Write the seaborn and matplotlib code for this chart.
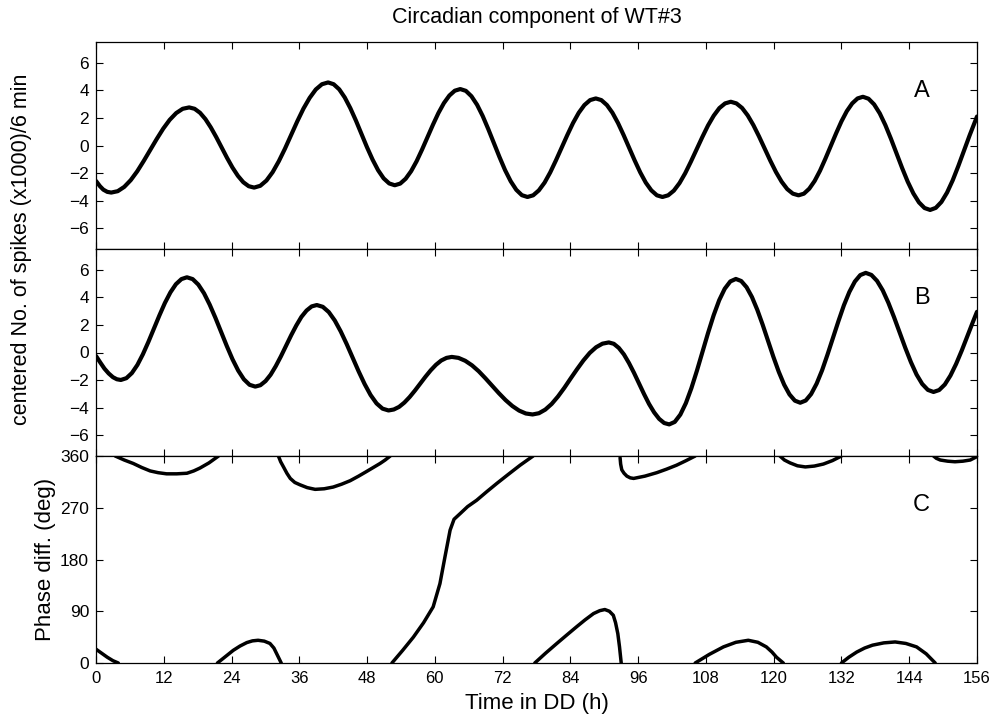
import numpy as np
import pandas as pd
import matplotlib
matplotlib.use("Agg")
import matplotlib.pyplot as plt
import seaborn as sns

# ---------------- data ----------------
hours_a = [0, 0.7, 1.3, 2.0,
           2.7, 3.85, 5.0, 6.15, 7.3, 8.45, 9.6, 10.75, 11.9, 13.05, 14.2, 15.35,
           16.5, 17.46, 18.42, 19.38, 20.33, 21.29, 22.25, 23.21, 24.17, 25.13, 26.08, 27.04,
           28.0, 29.09, 30.18, 31.28, 32.37, 33.46, 34.55, 35.64, 36.73, 37.83, 38.92, 40.01,
           41.1, 42.08, 43.07, 44.05, 45.03, 46.02, 47.0, 47.98, 48.97, 49.95, 50.93, 51.92,
           52.9, 53.87, 54.83, 55.8, 56.77, 57.73, 58.7, 59.67, 60.63, 61.6, 62.57, 63.53,
           64.5, 65.49, 66.48, 67.48, 68.47, 69.46, 70.45, 71.44, 72.43, 73.43, 74.42, 75.41,
           76.4, 77.41, 78.42, 79.43, 80.43, 81.44, 82.45, 83.46, 84.47, 85.48, 86.48, 87.49,
           88.5, 89.48, 90.47, 91.45, 92.43, 93.42, 94.4, 95.38, 96.37, 97.35, 98.33, 99.32,
           100.3, 101.31, 102.32, 103.33, 104.33, 105.34, 106.35, 107.36, 108.37, 109.38, 110.38, 111.39,
           112.4, 113.4, 114.4, 115.4, 116.4, 117.4, 118.4, 119.4, 120.4, 121.4, 122.4, 123.4,
           124.4, 125.35, 126.3, 127.25, 128.2, 129.15, 130.1, 131.05, 132.0, 132.95, 133.9, 134.85,
           135.8, 136.79, 137.78, 138.78, 139.77, 140.76, 141.75, 142.74, 143.73, 144.73, 145.72, 146.71,
           147.7, 148.7, 149.7, 150.7, 151.7, 152.7, 153.7, 154.7, 156.0]
spikes_a = [-2.57, -2.95, -3.2, -3.36,
            -3.41, -3.31, -3.00, -2.51, -1.87, -1.12, -0.32, 0.47, 1.22, 1.86, 2.35, 2.66,
            2.76, 2.66, 2.37, 1.91, 1.31, 0.61, -0.15, -0.90, -1.60, -2.20, -2.66, -2.95,
            -3.05, -2.92, -2.54, -1.93, -1.14, -0.23, 0.76, 1.75, 2.67, 3.45, 4.06, 4.44,
            4.57, 4.44, 4.07, 3.48, 2.71, 1.81, 0.85, -0.12, -1.02, -1.79, -2.38, -2.75,
            -2.88, -2.76, -2.41, -1.86, -1.14, -0.30, 0.61, 1.51, 2.35, 3.07, 3.62, 3.97,
            4.09, 3.96, 3.57, 2.95, 2.14, 1.19, 0.18, -0.83, -1.78, -2.59, -3.21, -3.60,
            -3.73, -3.61, -3.25, -2.69, -1.95, -1.08, -0.16, 0.76, 1.63, 2.37, 2.93, 3.29,
            3.41, 3.29, 2.93, 2.37, 1.63, 0.76, -0.16, -1.08, -1.95, -2.69, -3.25, -3.61,
            -3.73, -3.61, -3.27, -2.72, -2.01, -1.17, -0.28, 0.61, 1.45, 2.16, 2.71, 3.05,
            3.17, 3.05, 2.72, 2.18, 1.48, 0.66, -0.22, -1.10, -1.92, -2.62, -3.16, -3.49,
            -3.61, -3.49, -3.13, -2.57, -1.83, -0.96, -0.04, 0.88, 1.75, 2.49, 3.05, 3.41,
            3.53, 3.39, 2.98, 2.33, 1.48, 0.49, -0.57, -1.63, -2.62, -3.47, -4.12, -4.53,
            -4.67, -4.52, -4.09, -3.41, -2.52, -1.48, -0.37, 0.74, 2.1]

hours_b = [0, 0.75, 1.5, 2.25, 3.0, 3.7,
           4.4, 5.38, 6.35, 7.33, 8.3, 9.28, 10.25, 11.23, 12.2, 13.18, 14.15, 15.13,
           16.1, 17.11, 18.12, 19.13, 20.13, 21.14, 22.15, 23.16, 24.17, 25.18, 26.18, 27.19,
           28.2, 29.11, 30.02, 30.92, 31.83, 32.74, 33.65, 34.56, 35.47, 36.37, 37.28, 38.19,
           39.1, 40.16, 41.22, 42.28, 43.33, 44.39, 45.45, 46.51, 47.57, 48.62, 49.68, 50.74,
           51.8, 52.73, 53.67, 54.6, 55.53, 56.47, 57.4, 58.33, 59.27, 60.2, 61.13, 62.07,
           63.0, 64.19, 65.38, 66.58, 67.77, 68.96, 70.15, 71.34, 72.53, 73.73, 74.92, 76.11,
           77.3, 78.43, 79.55, 80.68, 81.8, 82.93, 84.05, 85.18, 86.3, 87.43, 88.55, 89.68,
           90.8, 91.69, 92.58, 93.48, 94.37, 95.26, 96.15, 97.04, 97.93, 98.83, 99.72, 100.61,
           101.5, 102.48, 103.47, 104.45, 105.43, 106.42, 107.4, 108.38, 109.37, 110.35, 111.33, 112.32,
           113.3, 114.25, 115.2, 116.15, 117.1, 118.05, 119.0, 119.95, 120.9, 121.85, 122.8, 123.75,
           124.7, 125.67, 126.63, 127.6, 128.57, 129.53, 130.5, 131.47, 132.43, 133.4, 134.37, 135.33,
           136.3, 137.3, 138.3, 139.3, 140.3, 141.3, 142.3, 143.3, 144.3, 145.3, 146.3, 147.3,
           148.3, 149.3, 150.3, 151.3, 152.3, 153.3, 154.3, 155.3, 156.0]
spikes_b = [-0.25, -0.72, -1.17, -1.52, -1.79, -1.94,
            -1.99, -1.86, -1.49, -0.90, -0.13, 0.77, 1.73, 2.69, 3.59, 4.36, 4.95, 5.32,
            5.45, 5.32, 4.92, 4.29, 3.47, 2.52, 1.49, 0.47, -0.49, -1.31, -1.94, -2.34,
            -2.47, -2.37, -2.07, -1.61, -0.99, -0.28, 0.49, 1.25, 1.96, 2.58, 3.04, 3.34,
            3.44, 3.31, 2.93, 2.32, 1.53, 0.61, -0.38, -1.37, -2.29, -3.08, -3.69, -4.07,
            -4.2, -4.13, -3.94, -3.63, -3.23, -2.76, -2.26, -1.76, -1.29, -0.89, -0.58, -0.39,
            -0.32, -0.39, -0.60, -0.93, -1.36, -1.87, -2.41, -2.95, -3.45, -3.88, -4.21, -4.42,
            -4.49, -4.40, -4.14, -3.73, -3.19, -2.56, -1.88, -1.21, -0.58, -0.03, 0.38, 0.64,
            0.73, 0.63, 0.33, -0.14, -0.76, -1.47, -2.24, -3.01, -3.73, -4.34, -4.81, -5.11,
            -5.21, -5.03, -4.50, -3.67, -2.58, -1.30, 0.06, 1.42, 2.70, 3.79, 4.62, 5.15,
            5.33, 5.18, 4.73, 4.02, 3.09, 2.01, 0.85, -0.32, -1.40, -2.33, -3.04, -3.49,
            -3.64, -3.48, -3.01, -2.26, -1.29, -0.15, 1.07, 2.28, 3.42, 4.39, 5.14, 5.61,
            5.77, 5.62, 5.19, 4.51, 3.61, 2.57, 1.46, 0.34, -0.70, -1.60, -2.28, -2.71,
            -2.86, -2.72, -2.32, -1.67, -0.83, 0.14, 1.19, 2.24, 2.95]

# phase difference, one list per wrapped segment
phase_hours = [
    [0, 1.0, 2.0, 3.0, 3.95],
    [3.4, 5.0, 6.6, 8.1, 9.6, 11.0, 12.5, 14.3, 16.1, 17.3, 18.4, 20.0, 21.7],
    [21.5, 22.9, 24.3, 25.5, 26.7, 27.7, 28.7, 29.8, 30.8, 31.5, 32.0, 32.4, 32.8],
    [32.3, 32.7, 33.2, 33.8, 34.4, 35.2, 36.1, 37.4, 38.8, 40.4, 42.0, 43.5, 45.0,
     46.5, 47.9, 49.1, 50.3, 51.2, 52.1],
    [52.4, 54.3, 56.2, 58.0, 59.7, 60.9, 61.8, 62.7, 63.4, 64.5, 65.8, 67.4, 69.2,
     71.0, 73.0, 75.1, 77.4],
    [77.7, 79.6, 81.6, 83.4, 85.1, 86.6, 88.1, 89.2, 90.1, 90.9, 91.6, 92.0, 92.4,
     92.7, 93.0],
    [92.8, 92.9, 93.1, 93.5, 94.0, 94.6, 95.2, 97.2, 99.3, 101.0, 102.8, 104.5, 106.1],
    [106.1, 108.6, 111.1, 113.3, 115.5, 117.2, 118.7, 119.7, 120.5, 121.7],
    [121.1, 121.9, 122.9, 124.2, 125.6, 127.2, 128.8, 130.4, 132.0],
    [132.0, 133.3, 134.7, 136.1, 137.5, 139.5, 141.5, 143.4, 145.3, 147.0, 148.6],
    [148.3, 148.8, 149.5, 150.8, 152.1, 153.5, 154.8, 156.0],
]
phase_deg = [
    [24, 17, 10, 4, 0],
    [360, 353, 347, 340, 334, 331, 329, 329, 330, 334, 339, 348, 360],
    [0, 11, 22, 29.5, 35.5, 38.5, 39.5, 38, 34, 26, 16, 8, 0],
    [360, 350, 341, 330, 321, 314, 310, 305, 302, 303, 306, 311, 317,
     325, 333, 340, 347, 353, 360],
    [0, 22, 45, 70, 97.6, 138, 185, 231, 250, 260, 272, 283, 298,
     312.5, 328, 344, 360],
    [0, 17, 34, 49, 63, 75, 86, 91, 93, 90, 83, 70, 51, 28, 0],
    [357, 346, 336, 330, 325, 322, 321, 325, 331, 337, 344, 352, 360],
    [0, 15, 28, 36, 39.5, 36, 28, 19, 10, 0],
    [360, 353, 348, 343, 341, 342.5, 346, 352, 360],
    [0, 10, 19, 26, 31, 35, 36.6, 34, 28, 16, 0],
    [360, 356, 353, 351, 350, 351, 353, 359],
]

x_ticks = list(range(0, 157, 12))
spike_ticks = [-6, -4, -2, 0, 2, 4, 6]
phase_ticks = [0, 90, 180, 270, 360]
panel_letters = ["A", "B", "C"]
title = "Circadian component of WT#3"
xlabel = "Time in DD (h)"
ylabel_spikes = "centered No. of spikes (x1000)/6 min"
ylabel_phase = "Phase diff. (deg)"

# ---------------- build frames ----------------
df_a = pd.DataFrame({"t": hours_a, "v": spikes_a})
df_b = pd.DataFrame({"t": hours_b, "v": spikes_b})
rows = []
for k, (hs, ds) in enumerate(zip(phase_hours, phase_deg)):
    for h, d in zip(hs, ds):
        rows.append({"t": h, "phase": d, "seg": k})
df_c = pd.DataFrame(rows)

# ---------------- figure ----------------
sns.set_theme(style="white")
plt.rcParams["font.family"] = ["Liberation Sans", "DejaVu Sans"]

W, H = 997, 717
fig = plt.figure(figsize=(W / 100, H / 100), dpi=100)
left = 96 / W
width = (977 - 96) / W
ph = 207 / H

ax_a = fig.add_axes([left, 1 - 249 / H, width, ph])
ax_b = fig.add_axes([left, 1 - 456 / H, width, ph])
ax_c = fig.add_axes([left, 1 - 663 / H, width, ph])

line_kw = dict(color="black", estimator=None, sort=False,
               solid_joinstyle="round", solid_capstyle="round")
sns.lineplot(data=df_a, x="t", y="v", ax=ax_a, linewidth=3.0, **line_kw)
sns.lineplot(data=df_b, x="t", y="v", ax=ax_b, linewidth=3.0, **line_kw)
sns.lineplot(data=df_c, x="t", y="phase", units="seg", ax=ax_c,
             linewidth=2.5, **line_kw)

for ax in (ax_a, ax_b, ax_c):
    ax.set_xlim(0, 156)
    ax.set_xticks(x_ticks)
    ax.set_xlabel("")
    ax.set_ylabel("")
    ax.tick_params(direction="in", length=5, width=0.8, top=True, right=True,
                   bottom=True, left=True, colors="black")
    ax.tick_params(axis="x", labelsize=12, pad=6)
    ax.tick_params(axis="y", labelsize=12.5, pad=5)
    for s in ax.spines.values():
        s.set_color("black")
        s.set_linewidth(0.9)
        s.set_visible(True)
    ax.set_facecolor("white")

for ax in (ax_a, ax_b):
    ax.set_ylim(-7.5, 7.5)
    ax.set_yticks(spike_ticks)
    ax.set_yticklabels(["\u2212" + str(abs(v)) if v < 0 else str(v) for v in spike_ticks])
    ax.tick_params(labelbottom=False)

ax_c.set_ylim(0, 360)
ax_c.set_yticks(phase_ticks)
ax_c.set_xticklabels([str(v) for v in x_ticks])

for ax, letter in zip((ax_a, ax_b, ax_c), panel_letters):
    ax.text(0.937, 0.762, letter, transform=ax.transAxes, ha="center",
            va="center", fontsize=17, color="black")

fig.text((96 + 977) / 2 / W, 1 - 18 / H, title, ha="center", va="center",
         fontsize=15.5, color="black")
fig.text((96 + 977) / 2 / W, 1 - 703 / H, xlabel, ha="center", va="center",
         fontsize=16, color="black")
fig.text(22 / W, 1 - 249 / H, ylabel_spikes, ha="center", va="center",
         rotation=90, fontsize=15.5, color="black")
fig.text(45 / W, 1 - 559.5 / H, ylabel_phase, ha="center", va="center",
         rotation=90, fontsize=16, color="black")

fig.savefig("out.png", dpi=100, facecolor="white")
